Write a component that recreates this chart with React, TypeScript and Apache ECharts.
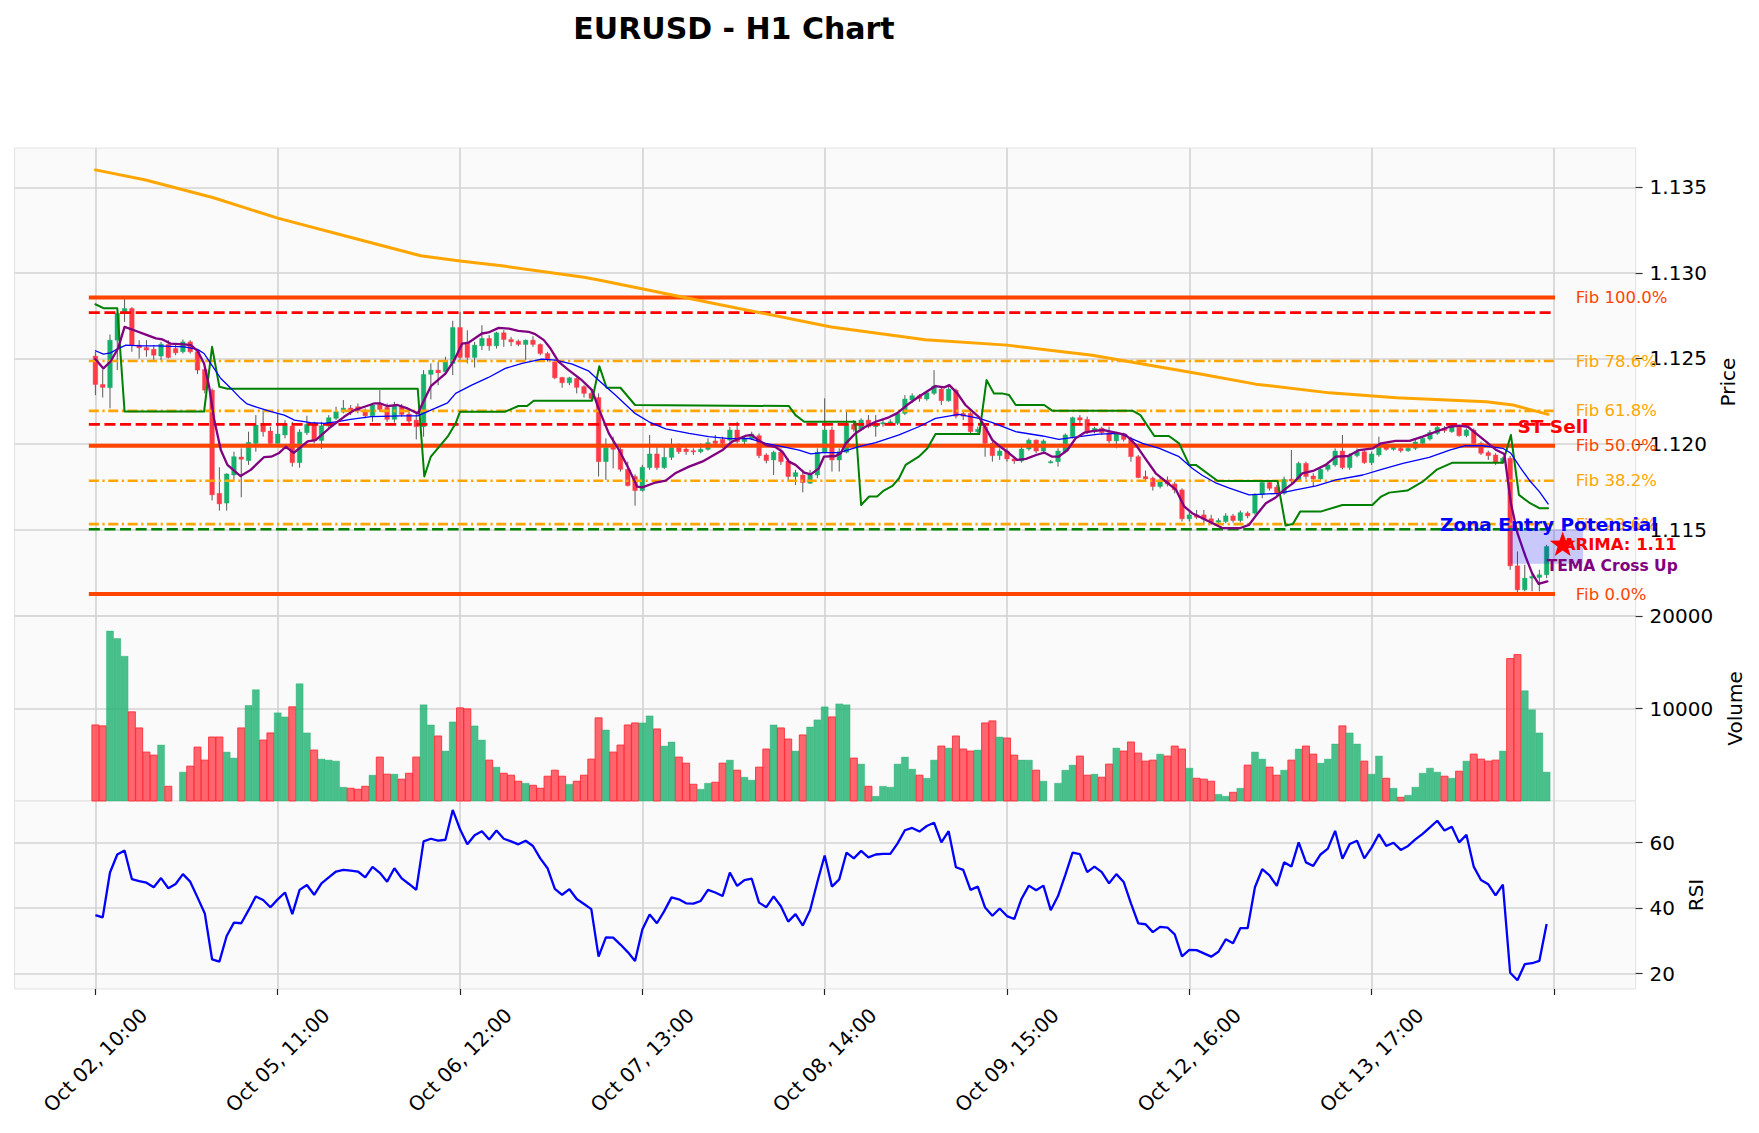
import React, { useEffect, useRef } from "react";
import * as echarts from "echarts";

const FONT = "DejaVu Sans";

// ---- hourly bars (index 0 = Oct 02, 10:00) ----
const tickLabels = [
  "Oct 02, 10:00", "Oct 05, 11:00", "Oct 06, 12:00", "Oct 07, 13:00",
  "Oct 08, 14:00", "Oct 09, 15:00", "Oct 12, 16:00", "Oct 13, 17:00",
];

const opens = [
  1.12514, 1.12348, 1.12329, 1.12607, 1.12763, 1.12792, 1.12578, 1.12564, 1.12554, 1.12514,
  1.12582, 1.12558, 1.12539, 1.12597, 1.12539, 1.12436, 1.12315, 1.11712, 1.11655, 1.11819,
  1.11924, 1.11903, 1.12004, 1.12111, 1.12076, 1.12004, 1.12053, 1.12105, 1.11891, 1.12066,
  1.12117, 1.1202, 1.12105, 1.1215, 1.12187, 1.1221, 1.12218, 1.12198, 1.12165, 1.12232,
  1.12214, 1.12144, 1.12218, 1.12175, 1.1214, 1.12101, 1.12407, 1.12432, 1.12422, 1.12471,
  1.12681, 1.12588, 1.12506, 1.12574, 1.12617, 1.12574, 1.1265, 1.12611, 1.12601, 1.12582,
  1.12607, 1.12582, 1.12529, 1.12481, 1.12389, 1.12358, 1.12383, 1.12335, 1.12296, 1.12272,
  1.11897, 1.11979, 1.11969, 1.11852, 1.1181, 1.11728, 1.11862, 1.11942, 1.11862, 1.11922,
  1.11979, 1.11971, 1.11961, 1.11955, 1.11969, 1.12018, 1.12027, 1.12023, 1.12082, 1.12014,
  1.12031, 1.12049, 1.11936, 1.11907, 1.11952, 1.11901, 1.1181, 1.11819, 1.11771, 1.11819,
  1.11952, 1.12082, 1.11907, 1.11952, 1.12115, 1.12086, 1.1214, 1.12101, 1.12117, 1.12117,
  1.12121, 1.12179, 1.12257, 1.12282, 1.12263, 1.12296, 1.12321, 1.12253, 1.12315, 1.12179,
  1.12179, 1.12072, 1.12101, 1.12004, 1.11932, 1.11959, 1.11913, 1.11901, 1.11971, 1.12023,
  1.11959, 1.11893, 1.11897, 1.11955, 1.12043, 1.12154, 1.12144, 1.12072, 1.12092, 1.12066,
  1.12018, 1.12058, 1.12027, 1.11926, 1.1181, 1.118, 1.11752, 1.1179, 1.11767, 1.11732,
  1.11563, 1.11586, 1.11586, 1.11563, 1.11543, 1.11547, 1.1158, 1.11553, 1.11596, 1.11596,
  1.11706, 1.11775, 1.11748, 1.11712, 1.11794, 1.1179, 1.11887, 1.11813, 1.11796, 1.11852,
  1.11878, 1.11959, 1.11862, 1.11932, 1.11955, 1.11891, 1.11936, 1.11985, 1.11969, 1.11975,
  1.11961, 1.11975, 1.12004, 1.12029, 1.12062, 1.12092, 1.12072, 1.12099, 1.12049, 1.12082,
  1.12004, 1.1195, 1.11936, 1.11891, 1.11917, 1.11288, 1.11148, 1.11216, 1.1122, 1.11236,
];

const closes = [
  1.12348, 1.12331, 1.12607, 1.12763, 1.12792, 1.12578, 1.12562, 1.12549, 1.12519, 1.12584,
  1.12506, 1.12533, 1.12597, 1.12539, 1.12432, 1.12315, 1.11703, 1.1165, 1.11825, 1.11926,
  1.11911, 1.1201, 1.12111, 1.12072, 1.12004, 1.12058, 1.12117, 1.11891, 1.1207, 1.12115,
  1.1202, 1.12107, 1.12154, 1.12189, 1.1221, 1.12189, 1.12195, 1.12165, 1.12228, 1.12202,
  1.12144, 1.12222, 1.12173, 1.12134, 1.12101, 1.12407, 1.12432, 1.12416, 1.12481, 1.12681,
  1.12506, 1.12506, 1.12578, 1.12617, 1.12574, 1.1265, 1.12611, 1.12597, 1.12582, 1.12607,
  1.12582, 1.12529, 1.12494, 1.12387, 1.12358, 1.12387, 1.12331, 1.12296, 1.12267, 1.11897,
  1.11979, 1.11969, 1.11852, 1.11757, 1.11728, 1.11864, 1.11942, 1.11862, 1.11922, 1.11979,
  1.11955, 1.11955, 1.11954, 1.11969, 1.12008, 1.12004, 1.12004, 1.12082, 1.12014, 1.12031,
  1.12057, 1.11932, 1.11903, 1.11952, 1.11897, 1.1181, 1.11833, 1.11775, 1.11819, 1.11952,
  1.12082, 1.11907, 1.11955, 1.12115, 1.12086, 1.1214, 1.12101, 1.12117, 1.12125, 1.1213,
  1.12179, 1.12263, 1.12282, 1.12265, 1.123, 1.12339, 1.12253, 1.12321, 1.12163, 1.12163,
  1.12072, 1.12086, 1.12004, 1.11932, 1.11959, 1.11913, 1.11901, 1.11971, 1.12023, 1.11959,
  1.12018, 1.11897, 1.11959, 1.12053, 1.12154, 1.1214, 1.12072, 1.12092, 1.12066, 1.12018,
  1.12062, 1.12027, 1.11926, 1.11804, 1.11796, 1.11752, 1.1178, 1.11767, 1.11732, 1.11563,
  1.11586, 1.11572, 1.11561, 1.11543, 1.11553, 1.1158, 1.11553, 1.11599, 1.1158, 1.11706,
  1.11775, 1.11741, 1.11712, 1.11794, 1.11784, 1.11887, 1.1181, 1.11796, 1.11852, 1.11878,
  1.11959, 1.11862, 1.11936, 1.11955, 1.11891, 1.11942, 1.11985, 1.11969, 1.11985, 1.11961,
  1.11975, 1.12012, 1.12033, 1.12068, 1.12097, 1.12078, 1.12099, 1.12049, 1.12082, 1.12004,
  1.11946, 1.11932, 1.11891, 1.11917, 1.11288, 1.11148, 1.11216, 1.11226, 1.11236, 1.11401,
];

const highs = [
  1.12539, 1.12436, 1.1264, 1.12772, 1.12856, 1.128, 1.12607, 1.12607, 1.12578, 1.12597,
  1.12607, 1.12578, 1.12611, 1.12607, 1.12549, 1.12451, 1.12325, 1.11864, 1.11829, 1.11955,
  1.11975, 1.12072, 1.12169, 1.12198, 1.12101, 1.12179, 1.1214, 1.1213, 1.12086, 1.12165,
  1.1213, 1.1213, 1.12169, 1.12218, 1.12257, 1.12228, 1.12237, 1.12208, 1.12241, 1.12315,
  1.12237, 1.12247, 1.12234, 1.12198, 1.12179, 1.12432, 1.12471, 1.12481, 1.1251, 1.1272,
  1.12772, 1.12665, 1.12597, 1.12694, 1.12636, 1.12656, 1.12665, 1.12626, 1.12611, 1.12611,
  1.1263, 1.12588, 1.12539, 1.1249, 1.12393, 1.12393, 1.12389, 1.12344, 1.12315, 1.12296,
  1.12033, 1.12043, 1.11985, 1.11897, 1.11823, 1.11878, 1.12053, 1.11994, 1.11985, 1.12033,
  1.12004, 1.11994, 1.11975, 1.12004, 1.12033, 1.12053, 1.12043, 1.12101, 1.1213, 1.12043,
  1.12072, 1.12062, 1.11946, 1.11961, 1.11975, 1.11917, 1.11849, 1.11839, 1.11849, 1.11975,
  1.12267, 1.12101, 1.11975, 1.12198, 1.1214, 1.1215, 1.12169, 1.12169, 1.1214, 1.12144,
  1.12183, 1.12286, 1.12296, 1.12292, 1.12311, 1.12432, 1.12339, 1.12335, 1.12325, 1.12198,
  1.12189, 1.12101, 1.12111, 1.12014, 1.11975, 1.11975, 1.11926, 1.11985, 1.12033, 1.12027,
  1.12027, 1.11907, 1.11975, 1.12062, 1.1216, 1.12169, 1.1216, 1.12101, 1.12101, 1.12101,
  1.12072, 1.12066, 1.12043, 1.11936, 1.11845, 1.1181, 1.118, 1.1181, 1.1178, 1.11741,
  1.11606, 1.11615, 1.11615, 1.11586, 1.11566, 1.11596, 1.11592, 1.11611, 1.11606, 1.11712,
  1.1179, 1.1179, 1.11761, 1.1181, 1.11965, 1.11897, 1.11897, 1.11829, 1.11868, 1.11897,
  1.11975, 1.12053, 1.11946, 1.11975, 1.11965, 1.11955, 1.12043, 1.11994, 1.11994, 1.11989,
  1.11989, 1.12023, 1.12043, 1.12082, 1.12105, 1.12105, 1.12111, 1.12109, 1.12092, 1.12092,
  1.12014, 1.11961, 1.11946, 1.11926, 1.1193, 1.11372, 1.11294, 1.11246, 1.11265, 1.11411,
];

const lows = [
  1.12286, 1.12272, 1.12208, 1.12432, 1.12714, 1.12539, 1.125, 1.1251, 1.12486, 1.1249,
  1.125, 1.12519, 1.12529, 1.12529, 1.12409, 1.12296, 1.1167, 1.11611, 1.11611, 1.1179,
  1.11689, 1.11878, 1.11955, 1.12043, 1.11994, 1.11994, 1.12033, 1.11868, 1.11862, 1.12053,
  1.12004, 1.11971, 1.12092, 1.1214, 1.12179, 1.12169, 1.12179, 1.1215, 1.1213, 1.12189,
  1.1213, 1.12125, 1.1216, 1.12111, 1.12027, 1.12043, 1.12261, 1.12344, 1.12403, 1.12403,
  1.1249, 1.12471, 1.12447, 1.12549, 1.12545, 1.12558, 1.12568, 1.12572, 1.12572, 1.1249,
  1.12568, 1.12519, 1.12481, 1.12379, 1.12329, 1.12344, 1.12296, 1.12272, 1.12257, 1.1181,
  1.1179, 1.11858, 1.11839, 1.11752, 1.1164, 1.11722, 1.11849, 1.11849, 1.11854, 1.11907,
  1.11942, 1.11936, 1.11936, 1.11946, 1.11961, 1.11994, 1.11975, 1.12014, 1.12004, 1.11985,
  1.12023, 1.11917, 1.11887, 1.11819, 1.11878, 1.1178, 1.11761, 1.11718, 1.11767, 1.118,
  1.11946, 1.11839, 1.11839, 1.11946, 1.12072, 1.12078, 1.12092, 1.12043, 1.12101, 1.12105,
  1.12111, 1.12169, 1.12241, 1.12247, 1.12253, 1.12286, 1.12228, 1.12247, 1.1215, 1.1214,
  1.12062, 1.12062, 1.11926, 1.11897, 1.11907, 1.11897, 1.11884, 1.11891, 1.11961, 1.11946,
  1.1195, 1.11887, 1.11868, 1.11946, 1.12033, 1.12121, 1.12058, 1.12062, 1.12053, 1.12004,
  1.11975, 1.12014, 1.11897, 1.118, 1.1178, 1.11728, 1.11741, 1.11752, 1.11712, 1.11547,
  1.11547, 1.11561, 1.11537, 1.11528, 1.11533, 1.11537, 1.11541, 1.11541, 1.11566, 1.11586,
  1.11683, 1.11728, 1.11697, 1.11703, 1.11771, 1.1178, 1.11794, 1.11752, 1.1179, 1.11839,
  1.11868, 1.11852, 1.11849, 1.11922, 1.11884, 1.11878, 1.11926, 1.11961, 1.11961, 1.1195,
  1.11955, 1.11965, 1.11994, 1.1202, 1.12053, 1.12066, 1.12066, 1.12043, 1.12039, 1.11994,
  1.11936, 1.11907, 1.11878, 1.11884, 1.11265, 1.11123, 1.11139, 1.11139, 1.11139, 1.11216,
];

const volumes = [
  8220, 8120, 18370, 17570, 15650, 9640, 7900, 5290, 4960, 6050,
  1590, 0, 3120, 3770, 5830, 4420, 6920, 6920, 5290, 4640,
  7900, 10330, 12030, 6590, 7360, 9530, 9090, 10180, 12680, 7360,
  5510, 4530, 4420, 4310, 1490, 1380, 1270, 1590, 2790, 4750,
  2900, 2900, 2360, 3000, 4750, 10400, 8220, 7030, 5400, 8550,
  10070, 9960, 8120, 6590, 4420, 3660, 3000, 2790, 2140, 1920,
  1700, 1380, 2680, 3330, 2680, 1810, 2140, 2790, 4530, 8990,
  7680, 5290, 6050, 8220, 8440, 8440, 9200, 7790, 5940, 6380,
  4750, 4090, 1810, 1270, 1920, 2030, 4090, 4420, 3330, 2570,
  2250, 3660, 5620, 8220, 7900, 6700, 5400, 7140, 8000, 8770,
  10180, 9090, 10500, 10400, 4640, 3990, 1590, 510, 1590, 1490,
  3990, 4750, 3440, 2790, 2460, 4420, 5940, 5720, 7030, 5620,
  5400, 5510, 8440, 8660, 6920, 6810, 4960, 4420, 4420, 3330,
  2140, 0, 1920, 3330, 3880, 4860, 2790, 2900, 2570, 3990,
  5720, 5400, 6380, 5180, 4310, 4420, 5070, 4860, 5940, 5620,
  3550, 2460, 2360, 2140, 720, 510, 940, 1380, 3880, 5290,
  4530, 3660, 2790, 3330, 4420, 5620, 5940, 5070, 4090, 4530,
  6160, 8120, 7360, 6160, 4310, 2900, 4860, 2460, 1380, 400,
  620, 1490, 3000, 3550, 3120, 2680, 2460, 3220, 4310, 5070,
  4530, 4310, 4420, 5400, 15400, 15830, 11920, 9860, 7360, 3120,
];

const rsiValues = [
  37.9, 37.2, 50.9, 56.4, 57.6, 48.9, 48.3, 47.8, 46.4, 49.2,
  46.1, 47.4, 50.4, 48.1, 43.3, 38.4, 24.4, 23.7, 31.5, 35.6,
  35.4, 39.4, 43.6, 42.5, 40.3, 42.7, 44.8, 38.2, 45.6, 47.1,
  44.1, 47.6, 49.4, 51.2, 51.7, 51.5, 51.2, 49.4, 52.6, 50.8,
  48.1, 52.2, 49.1, 47.4, 45.6, 60.4, 61.2, 60.6, 60.9, 70.0,
  64.1, 59.5, 62.3, 63.5, 61.0, 63.7, 61.2, 60.4, 59.5, 60.6,
  59.0, 55.2, 52.2, 45.9, 44.1, 45.8, 42.8, 41.3, 39.7, 25.2,
  31.1, 31.0, 28.9, 26.6, 23.9, 33.5, 38.1, 35.4, 39.1, 43.3,
  42.7, 41.5, 41.4, 42.2, 45.6, 44.8, 43.7, 50.9, 46.8, 48.6,
  49.0, 41.7, 40.3, 43.6, 40.6, 35.9, 38.2, 34.7, 39.4, 48.0,
  56.1, 46.6, 48.8, 57.0, 55.2, 57.5, 55.5, 56.4, 56.6, 56.6,
  59.8, 63.8, 64.5, 63.4, 65.1, 66.1, 60.1, 63.5, 52.5, 51.7,
  45.6, 46.6, 40.2, 37.7, 39.9, 37.6, 36.7, 42.9, 46.9, 45.5,
  46.9, 39.4, 43.7, 50.2, 57.0, 56.5, 51.0, 52.7, 51.0, 47.6,
  50.4, 48.0, 41.5, 35.4, 35.1, 32.7, 34.3, 34.1, 32.0, 25.3,
  27.3, 27.2, 26.2, 25.2, 26.7, 30.5, 29.3, 33.9, 33.9, 46.4,
  51.9, 50.0, 46.8, 54.0, 52.7, 60.1, 54.0, 52.9, 56.4, 58.2,
  63.6, 55.1, 59.6, 60.6, 55.2, 58.5, 62.6, 59.0, 60.0, 57.8,
  59.0, 61.0, 62.7, 64.7, 66.7, 63.7, 64.9, 60.1, 62.4, 52.7,
  48.6, 47.3, 43.9, 47.2, 20.3, 18.0, 22.9, 23.2, 23.9, 35.2,
];

// ---- indicator curves as [bar, price] ----
const emaFastLine = [
  [0, 1.12545], [1.1, 1.12525], [2.1, 1.12533], [3.1, 1.12558], [4.2, 1.12578], [6.2, 1.12574],
  [8.5, 1.12574], [12.2, 1.12568], [14, 1.12553], [14.9, 1.12529], [15.8, 1.12471], [17.2, 1.12383],
  [18.6, 1.12325], [19.9, 1.12267], [20.8, 1.12234], [22.2, 1.12214], [24.1, 1.12189], [25.9, 1.12169],
  [27.3, 1.1214], [29.5, 1.12125], [31.4, 1.12121], [33.2, 1.12131], [35, 1.12144], [37.8, 1.1216],
  [41.9, 1.12164], [44.2, 1.12164], [46, 1.12198], [48.3, 1.12241], [49.4, 1.12296], [51.6, 1.12344],
  [53.9, 1.12389], [56.2, 1.12442], [58.5, 1.12471], [61.2, 1.12496], [63.1, 1.1249], [65.4, 1.12467],
  [67.6, 1.12428], [69, 1.12373], [71.3, 1.12286], [74, 1.12179], [75.9, 1.1213], [78.2, 1.12088],
  [81.4, 1.12062], [84.1, 1.12043], [86.9, 1.12031], [89.6, 1.12033], [91.9, 1.12004], [94.2, 1.11985],
  [96.5, 1.11965], [98.1, 1.11942], [99.7, 1.1195], [102, 1.1195], [104.7, 1.11985], [107, 1.12008],
  [110.2, 1.12053], [112.9, 1.12101], [115.2, 1.1215], [118.4, 1.12173], [121.2, 1.1215], [123, 1.12125],
  [126.2, 1.12072], [129.9, 1.12047], [132.1, 1.12027], [134.9, 1.12043], [137.6, 1.12058], [140.4, 1.12062],
  [143.6, 1.12004], [145.9, 1.11975], [148.6, 1.11926], [150.4, 1.11858], [151.7, 1.11819], [153.7, 1.11771],
  [155.5, 1.11742], [158.2, 1.11703], [162.3, 1.11712], [164.6, 1.11732], [167.4, 1.11755], [170.1, 1.1179],
  [173.8, 1.11819], [176.5, 1.11854], [179.3, 1.11887], [182.9, 1.11922], [185.7, 1.11965], [187.9, 1.1199],
  [190.2, 1.1199], [193, 1.11975], [194.1, 1.11946], [195.3, 1.11868], [196.6, 1.1179], [198, 1.11722],
  [199.2, 1.1165],
];

const temaLine = [
  [0, 1.12496], [1.1, 1.12442], [2.1, 1.12484], [3.1, 1.12558], [4, 1.12685], [5.3, 1.12665],
  [7.1, 1.12636], [8.3, 1.12617], [9.2, 1.12611], [10.3, 1.12587], [12.2, 1.12582], [13.1, 1.12578],
  [14, 1.12545], [14.9, 1.12471], [15.6, 1.12335], [16.3, 1.1214], [17.2, 1.11965], [18.1, 1.11878],
  [19.9, 1.11813], [21.3, 1.11849], [23.1, 1.11923], [24.1, 1.11926], [25.2, 1.11948], [26.1, 1.11984],
  [27.2, 1.11948], [28.2, 1.11984], [29.1, 1.12015], [30.2, 1.12023], [32.3, 1.12101], [34.1, 1.12159],
  [35.5, 1.12198], [36.9, 1.12218], [38.2, 1.12237], [39.1, 1.12237], [40, 1.12222], [41.4, 1.12228],
  [42.8, 1.12208], [44.2, 1.12179], [46, 1.12338], [48, 1.12412], [49.2, 1.1249], [50.3, 1.12587],
  [51.2, 1.12593], [53, 1.12646], [53.9, 1.12652], [55.3, 1.12679], [56.7, 1.12675], [58, 1.12661],
  [59.4, 1.12656], [60.3, 1.12642], [61.5, 1.12607], [62.4, 1.12558], [63.5, 1.12481], [64.9, 1.12432],
  [66.7, 1.12373], [68.1, 1.12315], [69, 1.12208], [70.4, 1.12062], [71.8, 1.11965], [73.1, 1.11858],
  [74.3, 1.11751], [75, 1.11747], [76.8, 1.11775], [78.2, 1.11786], [79.5, 1.11829], [81.4, 1.11868],
  [83.2, 1.11897], [86, 1.11965], [87.3, 1.12014], [89.1, 1.12047], [90, 1.12053], [90.9, 1.12023],
  [92, 1.11994], [93.2, 1.11984], [94.2, 1.11955], [95.1, 1.11897], [96, 1.11878], [97.2, 1.11833],
  [98.1, 1.11823], [99.2, 1.11858], [99.9, 1.11926], [101.5, 1.1193], [102.2, 1.11946], [102.9, 1.12004],
  [104.2, 1.12062], [105.6, 1.12101], [107, 1.1213], [108.8, 1.12156], [109.9, 1.12179], [111.3, 1.12228],
  [112.9, 1.12276], [115.2, 1.12339], [116.4, 1.12331], [117.1, 1.12344], [118.2, 1.12296], [119.3, 1.12228],
  [120.3, 1.12189], [121.2, 1.12156], [122.1, 1.12092], [123, 1.12023], [124.1, 1.11984], [125.3, 1.11946],
  [126.4, 1.11907], [127.6, 1.11913], [129, 1.11936], [130.1, 1.1195], [131.2, 1.11926], [132.1, 1.11926],
  [133.3, 1.11965], [134.4, 1.12033], [135.6, 1.12066], [136.7, 1.12076], [138.1, 1.12082], [139.9, 1.12066],
  [141.3, 1.12053], [142.7, 1.11994], [144.1, 1.11907], [145.4, 1.11829], [146.8, 1.1178], [148.2, 1.11732],
  [149.3, 1.11635], [150.4, 1.11596], [153.2, 1.11537], [154.6, 1.11508], [156.9, 1.11508], [158.2, 1.11528],
  [159.4, 1.11596], [160.5, 1.11654], [161.9, 1.11689], [163, 1.11732], [164.2, 1.1177], [165.5, 1.11829],
  [167.1, 1.11845], [168.7, 1.11878], [170.1, 1.11926], [171.8, 1.1193], [173.3, 1.11965], [175.2, 1.11975],
  [176.3, 1.12004], [178.3, 1.12018], [180.2, 1.12018], [182, 1.12043], [183.8, 1.12072], [185.7, 1.12101],
  [187, 1.12107], [188.2, 1.12101], [189.3, 1.12062], [190.7, 1.12014], [192.1, 1.11965], [193.2, 1.11942],
  [194.1, 1.11654], [195, 1.11479], [196.1, 1.11343], [197, 1.11246], [197.9, 1.11183], [199.1, 1.11197],
];

const supertrendLine = [
  [0, 1.12817], [1.1, 1.12794], [3, 1.12794], [4, 1.1219], [14.9, 1.1219], [16, 1.12568], [17, 1.12335],
  [18.1, 1.12323], [44.2, 1.12323], [45.1, 1.1181], [46, 1.11927], [48.3, 1.12043], [49.4, 1.12121],
  [50, 1.12189], [56.2, 1.12189], [58, 1.12222], [59.2, 1.12222], [60.1, 1.12253], [68.1, 1.12253],
  [69.1, 1.12455], [70.1, 1.12329], [72, 1.12329], [74, 1.12228], [95.1, 1.12222], [96, 1.12169],
  [97.2, 1.1213], [104.2, 1.1213], [105, 1.11644], [106.1, 1.11693], [107.2, 1.11693], [108.1, 1.11728],
  [109.3, 1.11755], [110.2, 1.118], [111.1, 1.11878], [112.9, 1.11926], [114.1, 1.11975], [115.2, 1.12058],
  [121.2, 1.12058], [122.2, 1.12374], [123.2, 1.12296], [124.3, 1.12296], [125.3, 1.12286], [126.2, 1.12228],
  [130.1, 1.12228], [131.2, 1.12195], [142.2, 1.12195], [143.3, 1.12169], [145.2, 1.12047], [147.2, 1.12047],
  [148.6, 1.12004], [150, 1.11878], [150.9, 1.11878], [153.9, 1.11784], [162.1, 1.11784], [163.2, 1.11524],
  [164.2, 1.11533], [165.2, 1.11605], [168, 1.11605], [171, 1.11644], [175.1, 1.11644], [176.3, 1.11693],
  [177.4, 1.11716], [179.9, 1.11728], [182, 1.1178], [184, 1.11852], [186.1, 1.11891], [193, 1.11891],
  [194.1, 1.12053], [195.2, 1.11703], [196.6, 1.11658], [198, 1.11625], [199.2, 1.11625],
];

const emaSlowLine = [
  [0, 1.13602], [6.9, 1.13543], [16.2, 1.13439], [25, 1.1332], [33, 1.1323], [44.6, 1.131],
  [50, 1.1307], [56, 1.1304], [67, 1.12975], [69.2, 1.12957], [85, 1.1282], [100.9, 1.12684],
  [113.8, 1.1261], [125, 1.12578], [136.7, 1.12519], [151.7, 1.12408], [159.1, 1.1235], [169.2, 1.12299],
  [178.4, 1.1227], [190.7, 1.12247], [194.4, 1.12228], [199.2, 1.12173],
];

// ---- levels and signals ----
const fibRatios = [1, 0.786, 0.618, 0.5, 0.382, 0.236, 0];
const resistanceLevels = [1.12768, 1.12115];
const supportLevels = [1.11502];
const entryZone = { from: 194, to: 204, low: 1.113, high: 1.115 };
const arimaForecast = 1.1141;
const temaSignalPrice = 1.1129;
const stSellPrice = 1.121;

// ---- layout ----
const X_MIN = -11.08;
const X_MAX = 211.2;
const TICK_STEP = 25;
const LEVEL_X0 = -0.9;
const LEVEL_X1 = 200.15;
const FIB_LABEL_X = 203;

const UP = "#17b06b";
const DOWN = "#ff3b47";
const VOL_UP = "rgba(23,176,107,0.78)";
const VOL_DOWN = "rgba(255,59,71,0.78)";
const GRID_LINE = "#d3d3d3";
const PANEL_BG = "#fafafa";

const GRID_LEFT = 14.6;
const GRID_WIDTH = 1621;

function buildOption() {
  const fibHigh = Math.max(...highs);
  const fibLow = Math.min(...lows);

  const levelRows: any[] = [];
  fibRatios.forEach((r) => {
    const major = r === 0 || r === 0.5 || r === 1;
    levelRows.push({
      price: fibLow + (fibHigh - fibLow) * r,
      color: major ? "#ff4500" : "#ffa500",
      width: major ? 4 : 2.6,
      dash: major ? null : [10, 3.6, 2.2, 3.6],
      label: `Fib ${(r * 100).toFixed(1)}%`,
    });
  });
  resistanceLevels.forEach((p) =>
    levelRows.push({ price: p, color: "#ff0000", width: 2.6, dash: [11, 4.6], label: null })
  );
  supportLevels.forEach((p) =>
    levelRows.push({ price: p, color: "#008000", width: 2.6, dash: [11, 4.6], label: null })
  );

  const tickPositions = Array.from({ length: 9 }, (_, k) => k * TICK_STEP);
  const labelPositions = tickLabels.map((_, k) => k * TICK_STEP);

  const xAxis = [0, 1, 2].map((g) => ({
    type: "value",
    gridIndex: g,
    min: X_MIN,
    max: X_MAX,
    axisLine: { show: false, onZero: false },
    axisTick: {
      show: g === 2,
      customValues: tickPositions,
      length: 6,
      lineStyle: { color: "#222", width: 1.2 },
    },
    axisLabel: {
      show: g === 2,
      customValues: labelPositions,
      formatter: (v: number) => tickLabels[Math.round(v / TICK_STEP)] ?? "",
      rotate: 45,
      align: "center",
      verticalAlign: "middle",
      margin: 71,
      fontSize: 20,
      fontFamily: FONT,
      color: "#000",
    },
    splitLine: { show: true, lineStyle: { color: GRID_LINE, width: 1.6 } },
  }));

  const yBase = (g: number) => ({
    type: "value",
    gridIndex: g,
    position: "right",
    axisLine: { show: false, onZero: false },
    axisTick: { show: true, length: 7, lineStyle: { color: "#333", width: 1.2 } },
    axisLabel: { fontSize: 20, fontFamily: FONT, color: "#000", margin: 14 },
    splitLine: { show: true, lineStyle: { color: GRID_LINE, width: 1.6 } },
    nameLocation: "middle",
    nameRotate: 90,
    nameTextStyle: { fontSize: 20, fontFamily: FONT, color: "#000" },
  });

  const priceTicks = [1.115, 1.12, 1.125, 1.13, 1.135];
  const volTicks = [10000, 20000];
  const rsiTicks = [20, 40, 60];

  const yAxis = [
    {
      ...yBase(0),
      min: 1.10995,
      max: 1.1373,
      name: "Price",
      nameGap: 80,
      axisTick: { ...yBase(0).axisTick, customValues: priceTicks },
      axisLabel: { ...yBase(0).axisLabel, customValues: priceTicks, formatter: (v: number) => v.toFixed(3) },
    },
    {
      ...yBase(1),
      min: 0,
      max: 20000,
      name: "Volume",
      nameGap: 89,
      axisTick: { ...yBase(1).axisTick, customValues: volTicks },
      axisLabel: { ...yBase(1).axisLabel, customValues: volTicks, formatter: (v: number) => String(v) },
    },
    {
      ...yBase(2),
      min: 15.33,
      max: 72.73,
      name: "RSI",
      nameGap: 50,
      axisTick: { ...yBase(2).axisTick, customValues: rsiTicks },
      axisLabel: { ...yBase(2).axisLabel, customValues: rsiTicks, formatter: (v: number) => String(v) },
    },
  ];

  const candleData = opens.map((o, i) => [i, o, closes[i], lows[i], highs[i]]);
  const volumeData = volumes.map((v, i) => [i, v]);
  const rsiData = rsiValues.map((v, i) => [i, v]);

  const lineSeries = (data: number[][], color: string, width: number, z: number) => ({
    type: "line",
    xAxisIndex: 0,
    yAxisIndex: 0,
    data,
    showSymbol: false,
    symbol: "none",
    silent: true,
    z,
    lineStyle: { color, width, cap: "round", join: "round" },
  });

  const starPoints = (cx: number, cy: number, R: number, r: number) => {
    const pts: number[][] = [];
    for (let k = 0; k < 10; k++) {
      const a = -Math.PI / 2 + (k * Math.PI) / 5;
      const rad = k % 2 === 0 ? R : r;
      pts.push([cx + rad * Math.cos(a), cy + rad * Math.sin(a)]);
    }
    return pts;
  };

  const boldText = (x: number, y: number, text: string, color: string, size: number, align: string) => ({
    type: "text",
    x,
    y,
    style: {
      text,
      fill: color,
      fontSize: size,
      fontWeight: "bold",
      fontFamily: FONT,
      align,
      verticalAlign: "middle",
    },
  });

  const series: any[] = [
    {
      name: "candles",
      type: "custom",
      xAxisIndex: 0,
      yAxisIndex: 0,
      data: candleData,
      encode: { x: 0, y: [1, 2, 3, 4] },
      z: 2,
      silent: true,
      renderItem: (_params: any, api: any) => {
        const i = api.value(0);
        const o = api.value(1);
        const c = api.value(2);
        const lo = api.value(3);
        const hi = api.value(4);
        const top = api.coord([i, Math.max(o, c)]);
        const bot = api.coord([i, Math.min(o, c)]);
        const pHi = api.coord([i, hi]);
        const pLo = api.coord([i, lo]);
        const color = c >= o ? UP : DOWN;
        const w = 4.6;
        return {
          type: "group",
          children: [
            {
              type: "line",
              shape: { x1: pHi[0], y1: pHi[1], x2: pLo[0], y2: pLo[1] },
              style: { stroke: "#5a5a5a", lineWidth: 1 },
            },
            {
              type: "rect",
              shape: { x: top[0] - w / 2, y: top[1], width: w, height: Math.max(1.2, bot[1] - top[1]) },
              style: { fill: color, stroke: color, lineWidth: 0.4 },
            },
          ],
        };
      },
    },
    {
      name: "levels",
      type: "custom",
      xAxisIndex: 0,
      yAxisIndex: 0,
      data: levelRows.map((row) => [LEVEL_X0, row.price]),
      encode: { x: 0, y: 1 },
      z: 3,
      silent: true,
      clip: false,
      renderItem: (params: any, api: any) => {
        const row = levelRows[params.dataIndex];
        const a = api.coord([LEVEL_X0, row.price]);
        const b = api.coord([LEVEL_X1, row.price]);
        const children: any[] = [
          {
            type: "line",
            shape: { x1: a[0], y1: a[1], x2: b[0], y2: b[1] },
            style: { stroke: row.color, lineWidth: row.width, lineDash: row.dash, lineCap: "butt" },
          },
        ];
        if (row.label) {
          const t = api.coord([FIB_LABEL_X, row.price]);
          children.push({
            type: "text",
            x: t[0],
            y: t[1],
            style: {
              text: row.label,
              fill: row.color,
              fontSize: 16.5,
              fontFamily: FONT,
              align: "left",
              verticalAlign: "middle",
            },
          });
        }
        return { type: "group", children };
      },
    },
    lineSeries(emaSlowLine, "#ffa500", 3, 4),
    lineSeries(supertrendLine, "#008000", 2, 4),
    lineSeries(emaFastLine, "#0000ff", 1.3, 4),
    lineSeries(temaLine, "#800080", 2.3, 4),
    {
      name: "signals",
      type: "custom",
      xAxisIndex: 0,
      yAxisIndex: 0,
      data: [[entryZone.from, entryZone.low]],
      encode: { x: 0, y: 1 },
      z: 6,
      silent: true,
      clip: false,
      renderItem: (_params: any, api: any) => {
        const z0 = api.coord([entryZone.from, entryZone.high]);
        const z1 = api.coord([entryZone.to, entryZone.low]);
        const zoneLabel = api.coord([199.3, entryZone.high + 0.00028]);
        const arima = api.coord([201.2, arimaForecast]);
        const tema = api.coord([199, temaSignalPrice]);
        const st = api.coord([195, stSellPrice]);
        return {
          type: "group",
          children: [
            {
              type: "rect",
              shape: { x: z0[0], y: z0[1], width: z1[0] - z0[0], height: z1[1] - z0[1] },
              style: { fill: "rgba(0,0,255,0.2)" },
            },
            boldText(st[0], st[1], "ST Sell", "#ff0000", 18.5, "left"),
            boldText(tema[0], tema[1], "TEMA Cross Up", "#800080", 15.5, "left"),
            boldText(arima[0], arima[1], `ARIMA: ${arimaForecast.toFixed(2)}`, "#ff0000", 16.5, "left"),
            {
              type: "polygon",
              shape: { points: starPoints(arima[0], arima[1], 13.5, 5.4) },
              style: { fill: "#ff0000" },
            },
            boldText(zoneLabel[0], zoneLabel[1], "Zona Entry Potensial", "#0000ff", 18.5, "center"),
          ],
        };
      },
    },
    {
      name: "volume",
      type: "custom",
      xAxisIndex: 1,
      yAxisIndex: 1,
      data: volumeData,
      encode: { x: 0, y: 1 },
      z: 2,
      silent: true,
      renderItem: (_params: any, api: any) => {
        const i = api.value(0);
        const v = api.value(1);
        if (!v) return { type: "group", children: [] };
        const t = api.coord([i, v]);
        const b = api.coord([i, 0]);
        const up = closes[i] >= opens[i];
        return {
          type: "rect",
          shape: { x: t[0] - 3.5, y: t[1], width: 7, height: b[1] - t[1] },
          style: {
            fill: up ? VOL_UP : VOL_DOWN,
            stroke: up ? "rgba(23,176,107,0.35)" : "rgba(255,40,50,0.85)",
            lineWidth: 1,
          },
        };
      },
    },
    {
      name: "RSI",
      type: "line",
      xAxisIndex: 2,
      yAxisIndex: 2,
      data: rsiData,
      showSymbol: false,
      symbol: "none",
      silent: true,
      lineStyle: { color: "#0000ff", width: 2.3 },
      z: 3,
    },
  ];

  const gridBox = (top: number, height: number) => ({
    left: GRID_LEFT,
    top,
    width: GRID_WIDTH,
    height,
    show: true,
    backgroundColor: PANEL_BG,
    borderColor: "#e2e2e2",
    borderWidth: 1,
    containLabel: false,
  });

  return {
    animation: false,
    backgroundColor: "#ffffff",
    textStyle: { fontFamily: FONT },
    title: {
      text: "EURUSD - H1 Chart",
      left: 729,
      top: 8,
      textAlign: "center",
      textStyle: { fontSize: 30, fontWeight: "bold", color: "#000", fontFamily: FONT },
    },
    grid: [gridBox(148, 468), gridBox(616, 185), gridBox(801, 188)],
    xAxis,
    yAxis,
    series,
  };
}

export default function App() {
  const ref = useRef<HTMLDivElement>(null);
  useEffect(() => {
    if (!ref.current) return;
    const chart = echarts.init(ref.current, null, { renderer: "svg" });
    chart.setOption(buildOption() as any);
    return () => chart.dispose();
  }, []);
  return (
    <div
      ref={ref}
      style={{ position: "absolute", left: 0, top: 0, width: 1759, height: 1133, background: "#ffffff" }}
    />
  );
}
